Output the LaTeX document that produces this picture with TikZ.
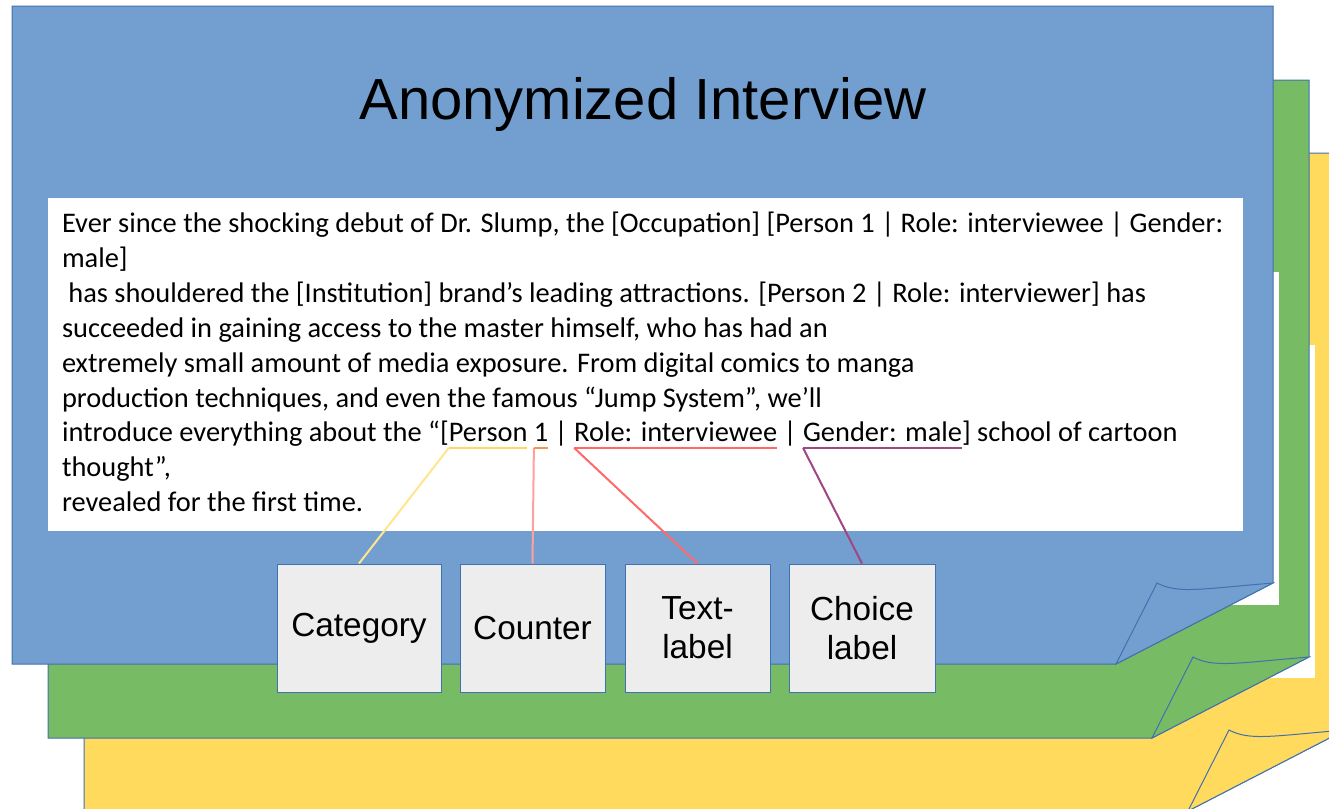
\documentclass[tikz,border=0pt]{standalone}
\usepackage{fontspec}
\setmainfont{Carlito}
\newfontfamily\arialf{Liberation Sans}
\definecolor{sheetblue}{RGB}{114,159,207}
\definecolor{sheetgreen}{RGB}{119,187,101}
\definecolor{sheetyellow}{RGB}{255,218,92}
\definecolor{edgeblue}{RGB}{65,113,176}
\definecolor{boxfill}{RGB}{237,237,237}
\definecolor{ulyellow}{RGB}{255,217,102}
\definecolor{lnyellow}{RGB}{255,230,140}
\definecolor{ulorange}{RGB}{247,150,70}
\definecolor{lnpink}{RGB}{255,160,160}
\definecolor{ulred}{RGB}{255,105,105}
\definecolor{ulpurple}{RGB}{160,70,130}
\newcommand\drawpaper[3]{%
  \begin{scope}[shift={(#1,#2)}]
    \filldraw[sheet, fill=#3] (12,6) -- (1273,6) -- (1273,583) -- (1116,664) -- (12,664) -- cycle;
    \fill[white] (48,198) rectangle (1243,531);
    \filldraw[sheet, fill=#3] (1116,664) -- (1157,583) .. controls (1178,594) and (1200,589) .. (1273,583) -- cycle;
  \end{scope}}
\begin{document}
\begin{tikzpicture}[x=0.75pt,y=-0.75pt,
  sheet/.style={draw=edgeblue, line width=0.75pt, line join=miter},
  txt/.style={inner sep=0pt, outer sep=0pt, anchor=base west, font=\fontsize{21.3}{26}\selectfont},
  lbl/.style={draw=edgeblue, fill=boxfill, line width=0.75pt, minimum height=96pt, inner sep=0pt, align=center, font=\arialf\fontsize{25}{29.25}\selectfont},
  uline/.style={line width=1.5pt},
  conn/.style={line width=1.5pt}]
\useasboundingbox (0,0) rectangle (1329,808);
\clip (0,0) rectangle (1329,808);
\fill[white] (0,0) rectangle (1329,808);
\drawpaper{72}{147}{sheetyellow}
\drawpaper{36}{74}{sheetgreen}
\drawpaper{0}{0}{sheetblue}
% title
\node[anchor=base, inner sep=0pt, font=\arialf\fontsize{43.5}{50}\selectfont] (title) at (643,119) {Anonymized Interview};
% body text
\node[txt] (l1) at (62,232.5) {Ever since the shocking debut of Dr. Slump, the [Occupation] [Person 1 | Role: interviewee | Gender:};
\node[txt] (l2) at (62,267.4) {male]};
\node[txt] (l3) at (62,302.3) {\ has shouldered the [Institution] brand’s leading attractions. [Person 2 | Role: interviewer] has};
\node[txt] (l4) at (62,337.2) {succeeded in gaining access to the master himself, who has had an};
\node[txt] (l5) at (62,372.1) {extremely small amount of media exposure. From digital comics to manga};
\node[txt] (l6) at (62,407) {production techniques, and even the famous “Jump System”, we’ll};
\node[txt] (l7a) at (62,441.9) {introduce everything about the “[};
\node[txt] (p1cat) at (l7a.base east) {Person};
\node[txt] (l7b) at (p1cat.base east) {\ \null};
\node[txt] (p1cnt) at (l7b.base east) {1};
\node[txt] (l7c) at (p1cnt.base east) {\ |\ \null};
\node[txt] (p1role) at (l7c.base east) {Role: interviewee};
\node[txt] (l7d) at (p1role.base east) {\ |\ \null};
\node[txt] (p1gen) at (l7d.base east) {Gender: male};
\node[txt] (l7e) at (p1gen.base east) {] school of cartoon};
\node[txt] (l8) at (62,476.8) {thought”,};
\node[txt] (l9) at (62,511.7) {revealed for the first time.};
% underline coordinates
\coordinate (ucatL) at ([yshift=-4.5pt]p1cat.base west);
\coordinate (ucatR) at ([yshift=-4.5pt]p1cat.base east);
\coordinate (ucntL) at ([yshift=-4.5pt]p1cnt.base west);
\coordinate (ucntR) at ([yshift=-4.5pt]p1cnt.base east);
\coordinate (uroleL) at ([yshift=-4.5pt]p1role.base west);
\coordinate (uroleR) at ([yshift=-4.5pt]p1role.base east);
\coordinate (ugenL) at ([yshift=-4.5pt]p1gen.base west);
\coordinate (ugenR) at ([yshift=-4.5pt]p1gen.base east);
% label boxes
\node[lbl, minimum width=123pt] (cat) at (359,628) {Category};
\node[lbl, minimum width=108.75pt] (cnt) at (532.5,628) {Counter};
\node[lbl, minimum width=108.75pt] (tl) at (697.5,628) {Text-\\label};
\node[lbl, minimum width=109.5pt] (cl) at (862,628) {Choice\\label};
% connectors
\draw[conn, lnyellow] (ucatL) -- (cat.north);
\draw[conn, lnpink] (ucntL) -- (cnt.north);
\draw[conn, ulred] (uroleL) -- (tl.north);
\draw[conn, ulpurple] (ugenL) -- (cl.north);
% underlines
\draw[uline, ulyellow] (ucatL) -- (ucatR);
\draw[uline, ulorange] (ucntL) -- (ucntR);
\draw[uline, ulred] (uroleL) -- (uroleR);
\draw[uline, ulpurple] (ugenL) -- (ugenR);
\end{tikzpicture}
\end{document}
